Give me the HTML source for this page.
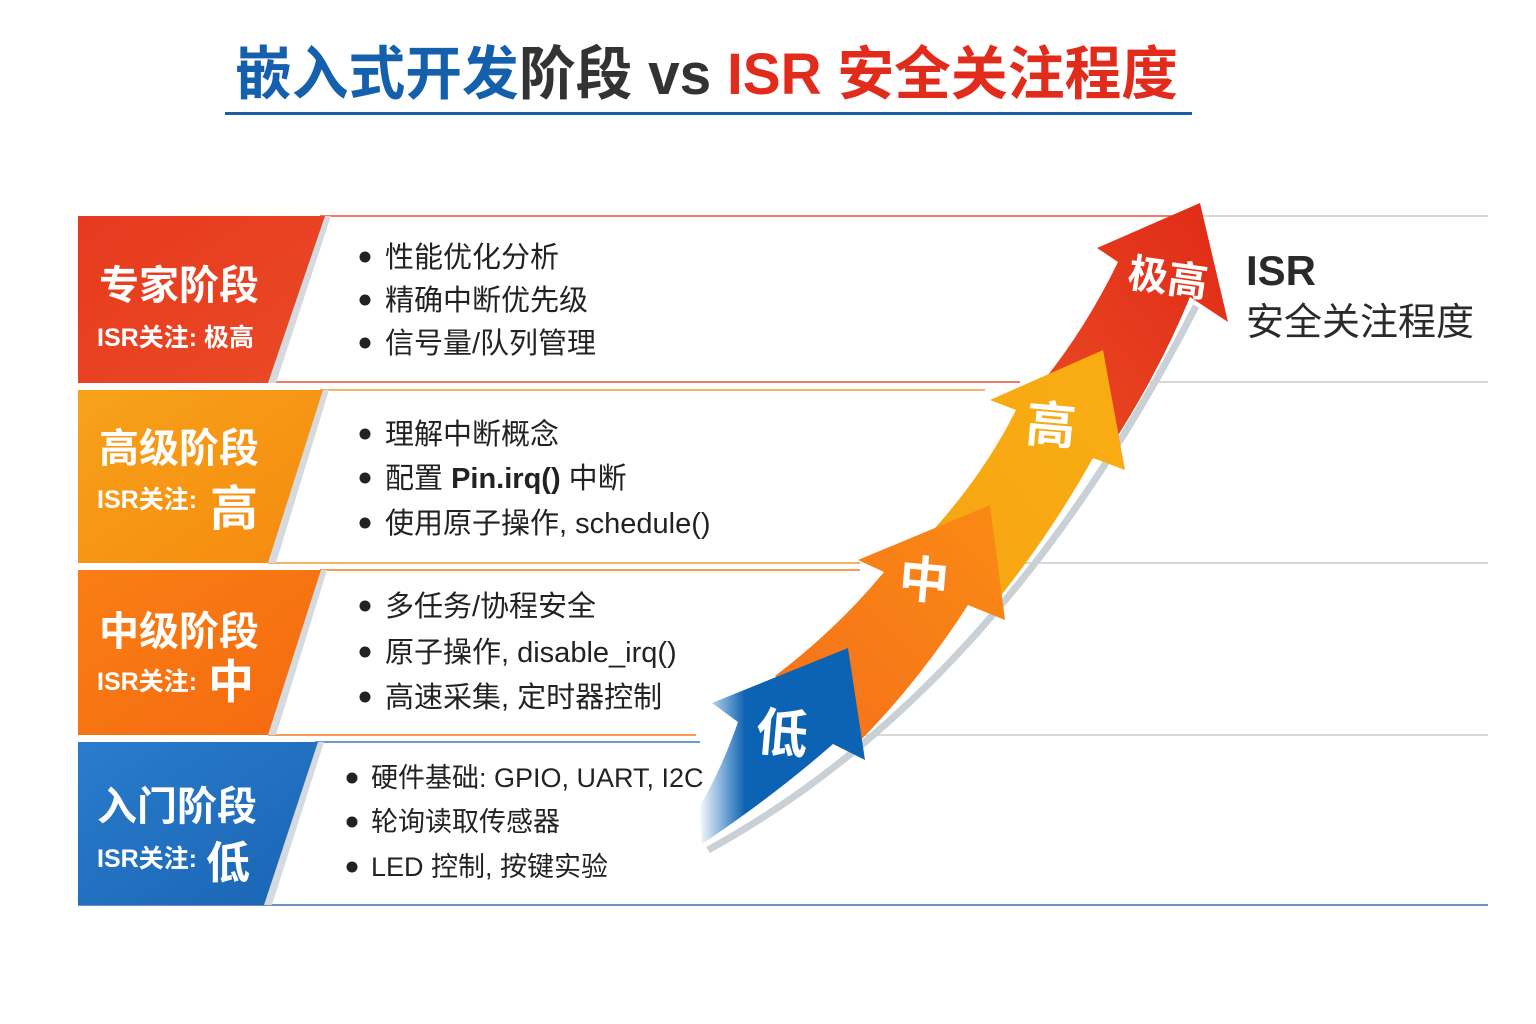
<!DOCTYPE html>
<html><head><meta charset="utf-8"><style>
html,body{margin:0;padding:0;background:#fff}
svg{display:block}
text{font-family:"Liberation Sans","Noto Sans CJK SC",sans-serif}
</style></head><body>
<svg width="1536" height="1024" viewBox="0 0 1536 1024" xmlns="http://www.w3.org/2000/svg">
<defs>
<linearGradient id="gr" x1="0" y1="0" x2="1" y2="1"><stop offset="0" stop-color="#e63a1e"/><stop offset="1" stop-color="#ea4a26"/></linearGradient>
<linearGradient id="gy" x1="0" y1="0" x2="1" y2="1"><stop offset="0" stop-color="#f7a21a"/><stop offset="1" stop-color="#f58a0f"/></linearGradient>
<linearGradient id="go" x1="0" y1="0" x2="1" y2="1"><stop offset="0" stop-color="#f97e14"/><stop offset="1" stop-color="#f56a10"/></linearGradient>
<linearGradient id="gb" x1="0" y1="0" x2="1" y2="1"><stop offset="0" stop-color="#2a7ccc"/><stop offset="1" stop-color="#1a64b4"/></linearGradient>
<linearGradient id="bl" x1="698" y1="0" x2="745" y2="0" gradientUnits="userSpaceOnUse"><stop offset="0" stop-color="#0c63b4" stop-opacity="0"/><stop offset="1" stop-color="#0c63b4"/></linearGradient>
<linearGradient id="ar" x1="0" y1="1" x2="1" y2="0"><stop offset="0" stop-color="#ea4a22"/><stop offset="1" stop-color="#e02a18"/></linearGradient>
<linearGradient id="ay" x1="0" y1="1" x2="1" y2="0"><stop offset="0" stop-color="#f6a514"/><stop offset="1" stop-color="#f9ad12"/></linearGradient>
<linearGradient id="ao" x1="0" y1="1" x2="1" y2="0"><stop offset="0" stop-color="#f5701a"/><stop offset="1" stop-color="#fa8a14"/></linearGradient>
</defs>

<text x="235" y="94" font-size="58" font-weight="bold" textLength="943" lengthAdjust="spacingAndGlyphs"><tspan fill="#1560ad">嵌入式开发</tspan><tspan fill="#333">阶段 vs </tspan><tspan fill="#e12c1c">ISR 安全关注程度</tspan></text>
<rect x="225" y="112" width="967" height="3" fill="#1a5ea8"/>

<line x1="320" y1="216" x2="1180" y2="216" stroke="#e8503a" stroke-width="1.5"/>
<line x1="1200" y1="216" x2="1488" y2="216" stroke="#ccc" stroke-width="1.5"/>
<line x1="268" y1="382" x2="1020" y2="382" stroke="#e8503a" stroke-width="1.5"/>
<line x1="1110" y1="382" x2="1488" y2="382" stroke="#ccc" stroke-width="1.5"/>
<line x1="320" y1="390" x2="985" y2="390" stroke="#f39a30" stroke-width="1.5"/>
<line x1="268" y1="563" x2="860" y2="563" stroke="#f39a30" stroke-width="1.5"/>
<line x1="1000" y1="563" x2="1488" y2="563" stroke="#ccc" stroke-width="1.5"/>
<line x1="320" y1="570" x2="860" y2="570" stroke="#f57a20" stroke-width="1.5"/>
<line x1="268" y1="735" x2="696" y2="735" stroke="#f57a20" stroke-width="1.5"/>
<line x1="860" y1="735" x2="1488" y2="735" stroke="#ccc" stroke-width="1.5"/>
<line x1="315" y1="742" x2="700" y2="742" stroke="#3a7cc0" stroke-width="1.5"/>
<line x1="78" y1="905" x2="1488" y2="905" stroke="#3a6ea8" stroke-width="1.5"/>

<polygon points="268,383 325,216 331,216 276,383" fill="#d5dadf"/>
<polygon points="78,216 325,216 268,383 78,383" fill="url(#gr)"/>
<polygon points="268,563 323,390 329,390 276,563" fill="#d5dadf"/>
<polygon points="78,390 323,390 268,563 78,563" fill="url(#gy)"/>
<polygon points="268,735 321,570 327,570 276,735" fill="#d5dadf"/>
<polygon points="78,570 321,570 268,735 78,735" fill="url(#go)"/>
<polygon points="264,905 318,742 324,742 272,905" fill="#d5dadf"/>
<polygon points="78,742 318,742 264,905 78,905" fill="url(#gb)"/>

<g fill="#fff" font-weight="bold">
<text x="99" y="299" font-size="40">专家阶段</text>
<text x="97" y="346" font-size="25">ISR关注: 极高</text>
<text x="99" y="462" font-size="40">高级阶段</text>
<text x="97" y="508" font-size="25">ISR关注:</text>
<text x="210" y="525" font-size="48">高</text>
<text x="99" y="645" font-size="40">中级阶段</text>
<text x="97" y="690" font-size="25">ISR关注:</text>
<text x="208" y="698" font-size="46">中</text>
<text x="97" y="820" font-size="40">入门阶段</text>
<text x="97" y="867" font-size="25">ISR关注:</text>
<text x="206" y="878" font-size="44">低</text>
</g>

<g fill="#222" font-size="29">
<circle cx="365" cy="257" r="5.5"/><text x="385" y="267">性能优化分析</text>
<circle cx="365" cy="300" r="5.5"/><text x="385" y="310">精确中断优先级</text>
<circle cx="365" cy="343" r="5.5"/><text x="385" y="353">信号量/队列管理</text>
<circle cx="365" cy="434" r="5.5"/><text x="385" y="444">理解中断概念</text>
<circle cx="365" cy="478" r="5.5"/><text x="385" y="488">配置 <tspan font-weight="bold">Pin.irq()</tspan> 中断</text>
<circle cx="365" cy="523" r="5.5"/><text x="385" y="533">使用原子操作, schedule()</text>
<circle cx="365" cy="606" r="5.5"/><text x="385" y="616">多任务/协程安全</text>
<circle cx="365" cy="652" r="5.5"/><text x="385" y="662">原子操作, disable_irq()</text>
<circle cx="365" cy="697" r="5.5"/><text x="385" y="707">高速采集, 定时器控制</text>
</g>
<g fill="#222" font-size="27">
<circle cx="352" cy="778" r="5.5"/><text x="371" y="787">硬件基础: GPIO, UART, I2C</text>
<circle cx="352" cy="822" r="5.5"/><text x="371" y="831">轮询读取传感器</text>
<circle cx="352" cy="867" r="5.5"/><text x="371" y="876">LED 控制, 按键实验</text>
</g>

<text x="1246" y="285" font-size="42" font-weight="bold" fill="#2a2a2a">ISR</text>
<text x="1246" y="335" font-size="38" fill="#2a2a2a">安全关注程度</text>

<!-- arrow shadow -->
<path d="M708,850 Q1000,690 1196,306" fill="none" stroke="#c9d0d6" stroke-width="7"/>

<path d="M1040,385 Q1085,330 1118,262 L1097,248 L1200,203 L1228,322 L1190,297 Q1160,370 1112,445 Z" fill="url(#ar)"/>
<path d="M935,528 Q985,472 1016,410 L990,400 L1103,350 L1125,470 L1093,458 Q1050,535 995,603 Z" fill="url(#ay)"/>
<path d="M775,676 Q838,628 884,572 L858,560 L990,505 L1005,620 L968,605 Q918,683 855,746 Z" fill="url(#ao)"/>
<path d="M700,806 Q722,768 738,722 L712,703 L848,648 L865,760 L833,744 Q775,795 702,844 Z" fill="url(#bl)"/>

<g fill="#fff" font-weight="bold">
<text x="1128" y="292" font-size="40" transform="rotate(8 1168 278)">极高</text>
<text x="1026" y="443" font-size="50" transform="rotate(5 1052 425)">高</text>
<text x="899" y="598" font-size="50" transform="rotate(5 925 580)">中</text>
<text x="756" y="752" font-size="52" transform="rotate(5 785 733)">低</text>
</g>
</svg>
</body></html>
